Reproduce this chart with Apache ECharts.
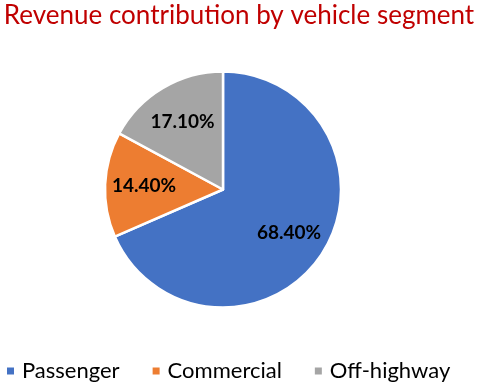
<!DOCTYPE html>
<html>
<head>
<meta charset="utf-8">
<script src="https://cdn.jsdelivr.net/npm/echarts@6/dist/echarts.min.js"></script>
<style>html,body{margin:0;padding:0;background:#fff}#c{width:478px;height:388px}</style>
</head>
<body>
<div id="c"></div>
<script>
const categories = ['Passenger', 'Commercial', 'Off-highway'];
const shares = [68.4, 14.4, 17.1];
const colors = ['#4472C4', '#ED7D31', '#A5A5A5'];

const data = categories.map((name, i) => ({ name: name, value: shares[i], itemStyle: { color: colors[i] } }));
const chart = echarts.init(document.getElementById('c'), null, { renderer: 'canvas' });
const FONT = 'Lato, "Open Sans", sans-serif';
chart.setOption({
  animation: false,
  title: {
    text: 'Revenue contribution by vehicle segment',
    left: 'center', top: -2,
    textStyle: { color: '#C00000', fontSize: 26, fontWeight: 'normal', fontFamily: FONT }
  },
  legend: {
    data: categories,
    bottom: 1, left: 0,
    icon: 'rect', itemWidth: 9, itemHeight: 9, itemGap: 31,
    textStyle: { fontSize: 22, color: '#000', fontFamily: FONT, padding: [0, 0, 0, 2] }
  },
  series: [{
    type: 'pie',
    center: [223, 189.5],
    radius: [0, 118],
    startAngle: 90,
    clockwise: true,
    silent: true,
    data: data,
    itemStyle: { borderColor: '#fff', borderWidth: 2.5 },
    label: { show: false },
    labelLine: { show: false }
  }, {
    type: 'pie',
    center: [223, 189.5],
    radius: [0, 152],
    startAngle: 90,
    clockwise: true,
    silent: true,
    legendHoverLink: false,
    data: data.map(d => ({ name: d.name, value: d.value, itemStyle: { color: 'rgba(0,0,0,0)' } })),
    itemStyle: { borderWidth: 0 },
    label: {
      show: true, position: 'inside',
      formatter: p => p.value.toFixed(2) + '%',
      fontSize: 19, fontWeight: 'bold', color: '#000', fontFamily: FONT,
      textBorderWidth: 0
    },
    labelLine: { show: false }
  }]
});
</script>
</body>
</html>
